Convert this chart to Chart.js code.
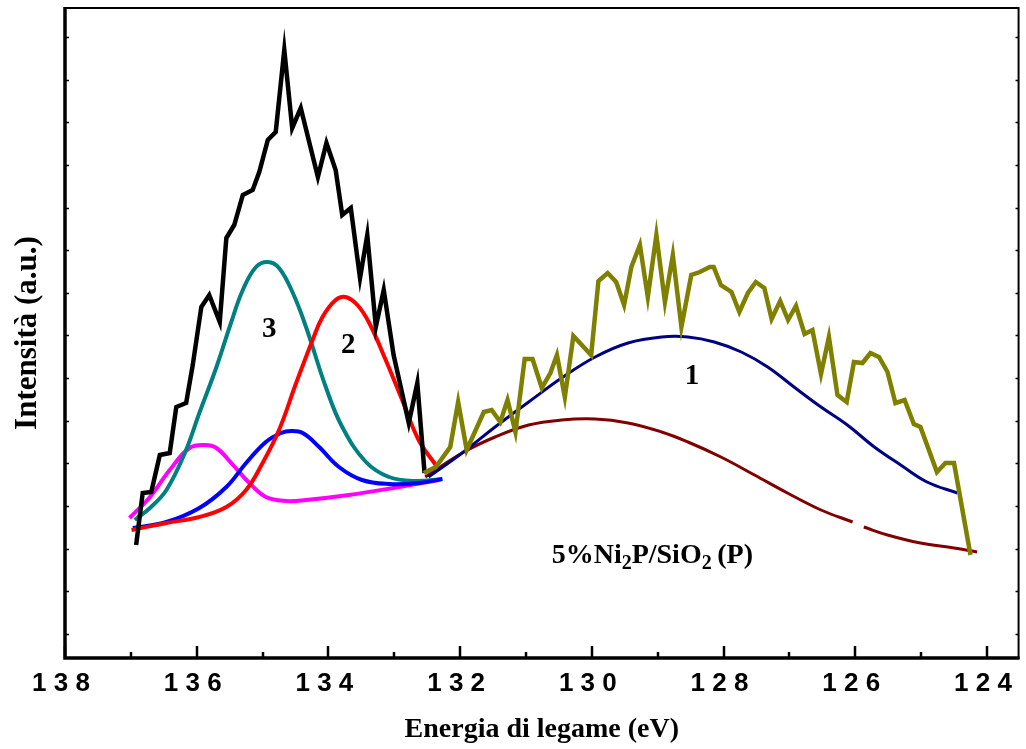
<!DOCTYPE html>
<html lang="it">
<head>
<meta charset="UTF-8">
<title>Spettro XPS - 5%Ni2P/SiO2(P)</title>
<script src="https://cdn.jsdelivr.net/npm/chart.js@4.4.1/dist/chart.umd.min.js"></script>
<style>
  html, body { margin: 0; padding: 0; background: #fff; }
  #chart { display: block; }
</style>
</head>
<body>
<canvas id="chart" width="1026" height="749"></canvas>
<script>
// Energia di legame (eV) e intensità (u.a.)

// spettro sperimentale, regione P 2p (nero)
const blackEnergy = [136.92, 136.82, 136.69, 136.56, 136.41, 136.31, 136.16, 136.06, 135.93, 135.81,
    135.65, 135.55, 135.43, 135.30, 135.15, 135.05, 134.92, 134.80, 134.67, 134.55,
    134.42, 134.16, 134.03, 133.89, 133.79, 133.66, 133.52, 133.41, 133.28, 133.16,
    133.01, 132.78, 132.65, 132.54];
const blackIntensity = [113, 165, 166, 203, 205, 251, 255, 293, 351, 363,
    336, 420, 433, 463, 468, 486, 518, 526, 608, 530,
    550, 481, 515, 488, 443, 450, 380, 423, 331, 368,
    303, 235, 275, 185];

// spettro sperimentale, regione a energia minore (oliva)
const oliveEnergy = [132.55, 132.37, 132.15, 132.03, 131.90, 131.64, 131.52, 131.39, 131.28, 131.16,
    131.02, 130.90, 130.76, 130.63, 130.53, 130.41, 130.28, 130.01, 129.90, 129.76,
    129.63, 129.51, 129.40, 129.27, 129.15, 129.02, 128.89, 128.77, 128.64, 128.49,
    128.36, 128.21, 128.15, 128.04, 127.88, 127.76, 127.63, 127.51, 127.38, 127.27,
    127.14, 127.02, 126.90, 126.77, 126.65, 126.52, 126.40, 126.27, 126.13, 126.02,
    125.89, 125.77, 125.64, 125.51, 125.39, 125.25, 125.11, 125.01, 124.76, 124.63,
    124.50, 124.25];
const oliveIntensity = [185, 191, 211, 256, 208, 246, 248, 236, 258, 226,
    299, 299, 270, 285, 303, 261, 322, 303, 377, 385,
    376, 353, 391, 413, 361, 423, 356, 403, 331, 383,
    386, 391, 391, 373, 366, 346, 365, 376, 370, 339,
    357, 338, 352, 324, 328, 284, 321, 263, 256, 296,
    295, 305, 301, 286, 255, 258, 234, 231, 186, 195,
    195, 103];

// picco 3 (verde acqua)
const tealEnergy = [136.94, 136.71, 136.46, 136.18, 135.96, 135.70, 135.48, 135.30, 135.10, 134.92,
    134.75, 134.54, 134.34, 134.04, 133.79, 133.43, 133.08, 132.68, 132.27];
const tealIntensity = [138, 150, 168, 205, 245, 291, 335, 368, 391, 396,
    390, 365, 331, 271, 231, 196, 181, 177, 179];

// picco 2 (rosso)
const redEnergy = [136.99, 136.46, 135.96, 135.55, 135.25, 135.00, 134.75, 134.49, 134.24, 134.09,
    133.89, 133.74, 133.56, 133.38, 133.13, 132.88, 132.63, 132.37];
const redIntensity = [128, 135, 141, 151, 168, 195, 228, 275, 318, 341,
    358, 361, 353, 335, 298, 258, 218, 193];

// componente minore (blu)
const blueEnergy = [136.97, 136.46, 135.96, 135.55, 135.25, 134.95, 134.72, 134.57, 134.39, 134.14,
    133.84, 133.49, 133.08, 132.63, 132.27];
const blueIntensity = [130, 136, 150, 171, 195, 216, 225, 227, 225, 211,
    191, 178, 174, 175, 179];

// componente minore (magenta)
const magentaEnergy = [137.02, 136.71, 136.41, 136.11, 135.88, 135.70, 135.45, 135.20, 134.95, 134.64,
    134.34, 133.69, 132.93, 132.32];
const magentaIntensity = [140, 161, 188, 210, 213, 210, 193, 175, 161, 157,
    158, 163, 171, 178];

// picco 1 (blu scuro)
const navyEnergy = [132.48, 131.97, 131.47, 130.96, 130.46, 129.95, 129.45, 128.94, 128.54, 128.14,
    127.73, 127.33, 126.93, 126.52, 126.12, 125.71, 125.31, 124.91, 124.45];
const navyIntensity = [181, 205, 231, 256, 280, 301, 315, 321, 321, 316,
    306, 291, 271, 251, 233, 211, 193, 176, 165];

// fondo (bordeaux), con la piccola interruzione vicino a 126 eV
const maroonEnergy = [132.53, 131.97, 131.47, 130.96, 130.46, 129.95, 129.45, 128.94, 128.54, 128.04,
    127.53, 127.03, 126.52, 126.04, 125.96, 125.87, 125.51, 125.01, 124.50, 124.15];
const maroonIntensity = [181, 205, 221, 233, 238, 239, 235, 226, 216, 201,
    183, 165, 148, 136, null, 131, 123, 115, 110, 106];

// assi
const xAllTicks = [138, 137, 136, 135, 134, 133, 132, 131, 130, 129, 128, 127, 126, 125, 124];
const xMajorTicks = [138, 136, 134, 132, 130, 128, 126, 124];
const xTickLabels = ['1 3 8', '1 3 6', '1 3 4', '1 3 2', '1 3 0', '1 2 8', '1 2 6', '1 2 4'];
const yTicks = [24, 67, 109, 152, 195, 237, 280, 323, 365, 408, 450, 493, 536, 578, 621];

// etichette dei picchi: [testo, energia, intensità]
const peakLabels = [['3', 134.90, 328], ['2', 133.70, 312], ['1', 128.48, 281]];
const sampleLabel = { energy: 130.61, intensity: 95 };

function toPoints(xs, ys) {
    return xs.map((x, i) => ({ x: x, y: ys[i] }));
}

function curve(label, xs, ys, color, width, order, smooth) {
    return {
        label: label,
        data: toPoints(xs, ys),
        borderColor: color,
        borderWidth: width,
        pointRadius: 0,
        fill: false,
        order: order,
        tension: smooth ? 0.4 : 0,
        spanGaps: false
    };
}

// cornice, tacche interne ed etichette nel grafico
const decorPlugin = {
    id: 'decor',
    afterDatasetsDraw(chart) {
        const ctx = chart.ctx;
        const a = chart.chartArea;
        const xs = chart.scales.x;
        const ys = chart.scales.y;
        ctx.save();
        ctx.strokeStyle = '#000';
        ctx.fillStyle = '#000';

        // tacche asse x
        ctx.lineWidth = 2.5;
        xAllTicks.forEach(v => {
            const px = Math.round(xs.getPixelForValue(v));
            const len = xMajorTicks.includes(v) ? 12 : 6;
            ctx.beginPath();
            ctx.moveTo(px, a.bottom);
            ctx.lineTo(px, a.bottom - len);
            ctx.stroke();
        });

        // tacche asse y (sinistra e destra)
        ctx.lineWidth = 1.5;
        yTicks.forEach(v => {
            const py = Math.round(ys.getPixelForValue(v)) + 0.5;
            ctx.beginPath();
            ctx.moveTo(a.left, py);
            ctx.lineTo(a.left + 4, py);
            ctx.moveTo(a.right, py);
            ctx.lineTo(a.right - 3, py);
            ctx.stroke();
        });

        // cornice
        ctx.lineWidth = 2;
        ctx.strokeRect(a.left, a.top, a.right - a.left, a.bottom - a.top);
        ctx.lineWidth = 3.5;
        ctx.beginPath();
        ctx.moveTo(a.left, a.top - 1);
        ctx.lineTo(a.left, a.bottom);
        ctx.lineTo(a.right + 1, a.bottom);
        ctx.stroke();

        // numeri dei picchi
        ctx.font = 'bold 29px "Liberation Serif"';
        ctx.textAlign = 'center';
        ctx.textBaseline = 'middle';
        peakLabels.forEach(([t, e, i]) => {
            ctx.fillText(t, xs.getPixelForValue(e), ys.getPixelForValue(i));
        });

        // nome del campione con pedici
        const parts = [['5%Ni', false], ['2', true], ['P/SiO', false], ['2', true], ['\u2009(P)', false]];
        let cx = xs.getPixelForValue(sampleLabel.energy);
        const base = ys.getPixelForValue(sampleLabel.intensity);
        ctx.textAlign = 'left';
        ctx.textBaseline = 'alphabetic';
        parts.forEach(([t, sub]) => {
            ctx.font = sub ? 'bold 20px "Liberation Serif"' : 'bold 28px "Liberation Serif"';
            ctx.fillText(t, cx, sub ? base + 6 : base);
            cx += ctx.measureText(t).width;
        });
        ctx.restore();
    }
};

const ctx = document.getElementById('chart').getContext('2d');

new Chart(ctx, {
    type: 'line',
    data: {
        datasets: [
            curve('Sperimentale 2', oliveEnergy, oliveIntensity, '#808000', 4.5, 0, false),
            curve('Sperimentale 1', blackEnergy, blackIntensity, '#000000', 4.5, 1, false),
            curve('Picco 2', redEnergy, redIntensity, '#ff0000', 4, 2, true),
            curve('Componente blu', blueEnergy, blueIntensity, '#0000ff', 4, 3, true),
            curve('Picco 3', tealEnergy, tealIntensity, '#008080', 4, 4, true),
            curve('Componente magenta', magentaEnergy, magentaIntensity, '#ff00ff', 4, 5, true),
            curve('Picco 1', navyEnergy, navyIntensity, '#000080', 3, 6, true),
            curve('Fondo', maroonEnergy, maroonIntensity, '#800000', 3, 7, true)
        ]
    },
    options: {
        responsive: false,
        animation: false,
        layout: { padding: { top: 8, right: 4, left: 0, bottom: 0 } },
        plugins: {
            legend: { display: false },
            tooltip: { enabled: false }
        },
        scales: {
            x: {
                type: 'linear',
                position: 'bottom',
                reverse: true,
                min: 123.52,
                max: 138,
                afterBuildTicks: (scale) => {
                    scale.ticks = xAllTicks.map(v => ({ value: v }));
                },
                afterFit: (scale) => {
                    scale.height = 91;
                },
                grid: { display: false, drawTicks: false },
                border: { display: false },
                ticks: {
                    autoSkip: false,
                    maxRotation: 0,
                    padding: 10,
                    labelOffset: -4,
                    color: '#000',
                    font: { family: '"Liberation Sans", Arial, sans-serif', size: 26, weight: 'bold' },
                    callback: (value) => {
                        const k = xMajorTicks.indexOf(value);
                        return k >= 0 ? xTickLabels[k] : '';
                    }
                },
                title: {
                    display: true,
                    text: 'Energia di legame (eV)',
                    color: '#000',
                    padding: { top: 0, bottom: 2 },
                    font: { family: '"Liberation Serif", "Times New Roman", serif', size: 28, weight: 'bold' }
                }
            },
            y: {
                type: 'linear',
                min: 0,
                max: 650,
                afterBuildTicks: (scale) => {
                    scale.ticks = yTicks.map(v => ({ value: v }));
                },
                afterFit: (scale) => {
                    scale.width = 65;
                },
                grid: { display: false, drawTicks: false },
                border: { display: false },
                ticks: { display: false },
                title: {
                    display: true,
                    text: 'Intensità (a.u.)',
                    color: '#000',
                    padding: { top: 9, bottom: 0 },
                    font: { family: '"Liberation Serif", "Times New Roman", serif', size: 31, weight: 'bold' }
                }
            }
        }
    },
    plugins: [decorPlugin]
});
</script>
</body>
</html>
